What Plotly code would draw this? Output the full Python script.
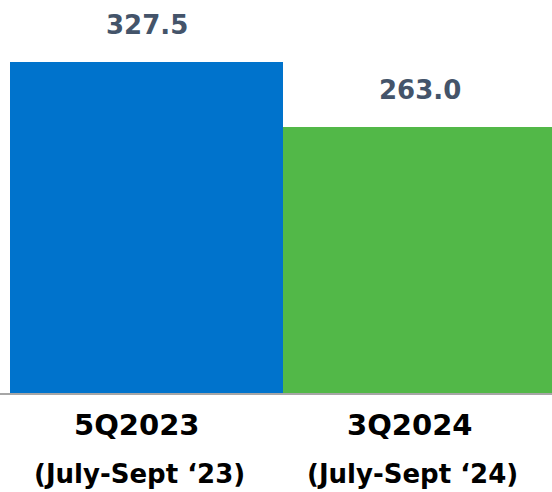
import plotly.graph_objects as go

categories = ["5Q2023", "3Q2024"]
periods = ["(July-Sept \u201823)", "(July-Sept \u201824)"]
values = [327.5, 263.0]
value_labels = ["327.5", "263.0"]
colors = ["#0073CC", "#52B848"]

W, H = 552, 492
plot_bottom_px = 393
px_per_unit_x = 273.0
x0 = -0.5 - 10 / px_per_unit_x
x1 = x0 + W / px_per_unit_x
y_top = 393 / (331 / 327.5)

fig = go.Figure()
fig.add_trace(go.Bar(
    x=list(range(len(categories))), y=values,
    marker=dict(color=colors, line=dict(width=0)),
    width=1.0, hoverinfo="skip",
))

font_family = "DejaVu Sans"
for i, (v, lab) in enumerate(zip(values, value_labels)):
    fig.add_annotation(x=i, y=v, text=f"<b>{lab}</b>", showarrow=False,
                       yanchor="middle", yshift=37,
                       font=dict(family=font_family, size=26, color="#44546A"))
for i, (c, p) in enumerate(zip(categories, periods)):
    fig.add_annotation(x=i, y=0, text=f"<b>{c}</b>", showarrow=False,
                       yanchor="middle", yshift=-32, xshift=-10,
                       font=dict(family=font_family, size=29, color="#000000"))
    fig.add_annotation(x=i, y=0, text=f"<b>{p}</b>", showarrow=False,
                       yanchor="middle", yshift=-81, xshift=-7,
                       font=dict(family=font_family, size=26, color="#000000"))

fig.update_layout(
    width=W, height=H,
    margin=dict(l=0, r=0, t=0, b=H - plot_bottom_px, pad=0),
    paper_bgcolor="white", plot_bgcolor="white",
    showlegend=False, bargap=0,
    xaxis=dict(range=[x0, x1], showticklabels=False, showgrid=False,
               zeroline=False, showline=True, linecolor="#A6A6A6",
               linewidth=2, ticks="", fixedrange=True),
    yaxis=dict(range=[0, y_top], showticklabels=False, showgrid=False,
               zeroline=False, showline=False, fixedrange=True),
)

fig.write_html("out.html", config={"displayModeBar": False})

with open("out.html", "r", encoding="utf-8") as f:
    html = f.read()
html = html.replace("<head>", "<head><style>html,body{margin:0;padding:0;overflow:hidden;}</style>", 1)
with open("out.html", "w", encoding="utf-8") as f:
    f.write(html)
